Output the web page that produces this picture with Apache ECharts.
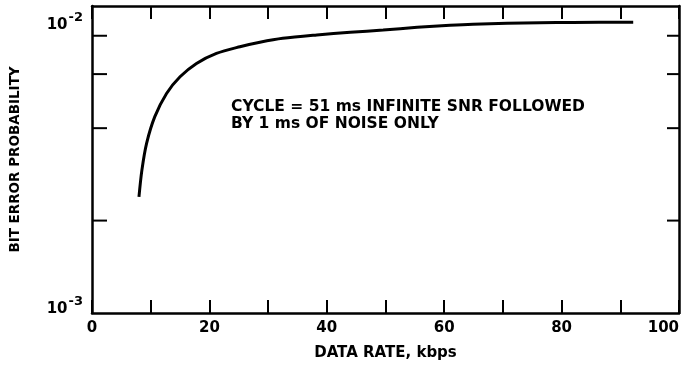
<!DOCTYPE html>
<html>
<head>
<meta charset="utf-8">
<script src="https://cdn.jsdelivr.net/npm/echarts@6/dist/echarts.min.js"></script>
<style>
html,body{margin:0;padding:0;background:#fff;overflow:hidden;}
#c{width:682px;height:372px;}
</style>
</head>
<body>
<div id="c"></div>
<script>
// Data
var dataRate = [8, 8.5, 9.3, 10.7, 12.7, 15, 17.8, 21.2, 25.2, 28.6, 32.5, 38.3, 44, 49.6, 55.4, 61, 64.9, 70.7, 76.3, 81.9, 92.2];
var bitErrorProb = [0.00239, 0.00292, 0.00357, 0.00436, 0.00519, 0.00588, 0.0065, 0.00701, 0.00737, 0.00762, 0.00785, 0.00805, 0.00821, 0.00835, 0.00852, 0.00865, 0.00872, 0.00878, 0.00882, 0.00884, 0.00885];
var yMinorTicks = [0.002, 0.004, 0.006, 0.008];
var xLabelValues = [0, 20, 40, 60, 80, 100];
var annotationLines = ['CYCLE = 51 ms INFINITE SNR FOLLOWED', 'BY 1 ms OF NOISE ONLY'];

var FONT = 'DejaVu Sans';
var chart = echarts.init(document.getElementById('c'), null, {renderer: 'canvas'});
var lineData = dataRate.map(function (x, i) { return [x, bitErrorProb[i]]; });

var axisLineStyle = {color: '#000', width: 2.5};

var option = {
  backgroundColor: '#fff',
  animation: false,
  grid: {left: 92, right: 3, top: 6, bottom: 59, containLabel: false, outerBoundsMode: 'none'},
  xAxis: [{
    type: 'value', min: 0, max: 100, interval: 10, position: 'bottom',
    axisLine: {show: true, onZero: false, lineStyle: axisLineStyle},
    axisTick: {show: true, inside: true, length: 13, lineStyle: {color: '#000', width: 2}},
    splitLine: {show: false},
    axisLabel: {
      color: '#000', fontFamily: FONT, fontSize: 15, fontWeight: 'bold', margin: 8, alignMaxLabel: 'right',
      formatter: function (v) { return xLabelValues.indexOf(v) >= 0 ? String(v) : ''; }
    },
    name: 'DATA RATE, kbps', nameLocation: 'middle', nameGap: 33,
    nameTextStyle: {color: '#000', fontFamily: FONT, fontSize: 15, fontWeight: 'bold'}
  }, {
    type: 'value', min: 0, max: 100, interval: 10, position: 'top',
    axisLine: {show: true, onZero: false, lineStyle: axisLineStyle},
    axisTick: {show: true, inside: true, length: 13, lineStyle: {color: '#000', width: 2}},
    splitLine: {show: false},
    axisLabel: {show: false}
  }],
  yAxis: [{
    type: 'log', logBase: 10, min: 0.001, max: 0.01, position: 'left',
    axisLine: {show: true, onZero: false, lineStyle: axisLineStyle},
    axisTick: {show: false},
    splitLine: {show: false},
    minorTick: {show: false},
    axisLabel: {
      color: '#000', margin: 9,
      formatter: function (v) {
        var e = Math.round(Math.log(v) / Math.LN10);
        if (e === -2) return '{t| }\n{a|10}{b|' + e + '}';
        return '{a|10}{b|' + e + '}\n{s| }';
      },
      rich: {
        a: {fontFamily: FONT, fontSize: 15, fontWeight: 'bold', color: '#000', lineHeight: 26, verticalAlign: 'bottom'},
        b: {fontFamily: FONT, fontSize: 13, fontWeight: 'bold', color: '#000', lineHeight: 26, verticalAlign: 'bottom', padding: [0, 0, 9, 1]},
        t: {fontSize: 10, lineHeight: 28},
        s: {fontSize: 10, lineHeight: 18}
      }
    },
    name: 'BIT ERROR PROBABILITY', nameLocation: 'middle', nameGap: 70, nameRotate: 90,
    nameTextStyle: {color: '#000', fontFamily: FONT, fontSize: 13.5, fontWeight: 'bold'}
  }, {
    type: 'log', logBase: 10, min: 0.001, max: 0.01, position: 'right',
    axisLine: {show: true, onZero: false, lineStyle: axisLineStyle},
    axisTick: {show: false}, splitLine: {show: false}, axisLabel: {show: false}
  }],
  graphic: [{
    type: 'text', left: 231, top: 98,
    style: {text: annotationLines.join('\n'), font: 'bold 15.5px "DejaVu Sans"', fill: '#000', lineHeight: 17}
  }],
  series: [{
    type: 'line', xAxisIndex: 0, yAxisIndex: 0, data: lineData, smooth: 0.3,
    showSymbol: false, lineStyle: {color: '#000', width: 3}
  }, {
    type: 'custom', xAxisIndex: 0, yAxisIndex: 0,
    data: yMinorTicks.map(function (v) { return [0, v]; }),
    encode: {x: 0, y: 1},
    renderItem: function (params, api) {
      var v = api.value(1);
      var pl = api.coord([0, v]);
      var pr = api.coord([100, v]);
      return {type: 'group', children: [
        {type: 'line', shape: {x1: pl[0], y1: pl[1], x2: pl[0] + 15, y2: pl[1]}, style: {stroke: '#000', lineWidth: 2}},
        {type: 'line', shape: {x1: pr[0] - 12, y1: pr[1], x2: pr[0], y2: pr[1]}, style: {stroke: '#000', lineWidth: 2}}
      ]};
    }
  }]
};
chart.setOption(option);
</script>
</body>
</html>
